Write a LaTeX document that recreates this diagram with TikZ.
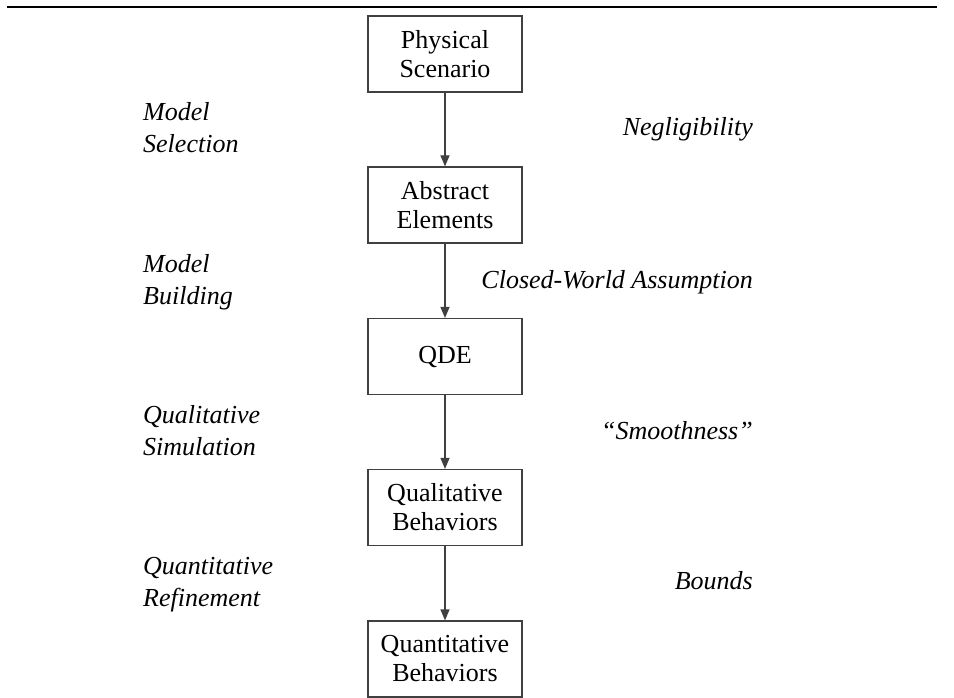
\documentclass[tikz,border=0pt]{standalone}
\usepackage{fontspec}
\setmainfont{Liberation Serif}
\usetikzlibrary{arrows.meta}
\begin{document}
\begin{tikzpicture}[x=1pt,y=-1pt,
  stage/.style={draw=black!75, line width=1.2pt, minimum width=154pt, minimum height=76pt,
    inner sep=0pt, align=center, font=\fontsize{26}{29}\selectfont},
  llab/.style={anchor=base west, align=left, inner sep=0pt, font=\fontsize{26}{32}\selectfont\itshape},
  rlab/.style={anchor=base east, inner sep=0pt, font=\fontsize{26}{32}\selectfont\itshape},
  flow/.style={draw=black!75, line width=1.2pt, -{Triangle[length=11pt,width=9pt]}},
  rule/.style={draw=black, line width=1.3pt}]
\useasboundingbox (0,0) rectangle (954,698);
\draw[rule] (7,7) -- (937,7);

\node[stage] (ps) at (445,54) {Physical\\Scenario};
\node[stage] (ae) at (445,205) {Abstract\\Elements};
\node[stage] (qde) at (445,356.5) {QDE};
\node[stage] (qb) at (445,507.5) {Qualitative\\Behaviors};
\node[stage] (nb) at (445,659) {Quantitative\\Behaviors};

\draw[flow] (ps) -- (ae);
\draw[flow] (ae) -- (qde);
\draw[flow] (qde) -- (qb);
\draw[flow] (qb) -- (nb);

\node[llab] (ms) at (143,153) {Model\\Selection};
\node[llab] (mb) at (143,304) {Model\\Building};
\node[llab] (qs) at (143,455) {Qualitative\\Simulation};
\node[llab] (qr) at (143,606) {Quantitative\\Refinement};

\node[rlab] (ng) at (753,136) {Negligibility};
\node[rlab] (cw) at (753,288) {Closed-World Assumption};
\node[rlab] (sm) at (753,439) {``Smoothness''};
\node[rlab] (bd) at (753,589) {Bounds};
\end{tikzpicture}
\end{document}
